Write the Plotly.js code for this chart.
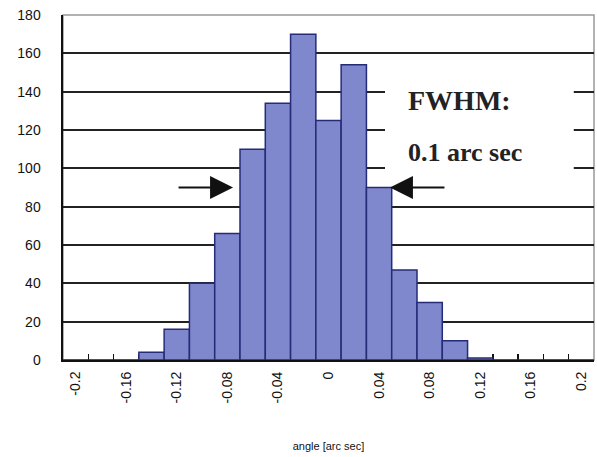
<!DOCTYPE html>
<html>
<head>
<meta charset="utf-8">
<script src="https://cdn.plot.ly/plotly-3.0.1.min.js"></script>
<style>html,body{margin:0;padding:0;background:#fff;}#chart{width:597px;height:457px;}</style>
</head>
<body>
<div id="chart"></div>
<script>
// Bin centres (arc sec) and counts
const angles = [-0.2,-0.18,-0.16,-0.14,-0.12,-0.1,-0.08,-0.06,-0.04,-0.02,0,0.02,0.04,0.06,0.08,0.1,0.12,0.14,0.16,0.18,0.2];
const counts = [0,0,0,4,16,40,66,110,134,170,125,154,90,47,30,10,1,0,0,0,0];
const tickValues = [-0.2,-0.16,-0.12,-0.08,-0.04,0,0.04,0.08,0.12,0.16,0.2];
const tickLabels = ["-0.2","-0.16","-0.12","-0.08","-0.04","0","0.04","0.08","0.12","0.16","0.2"];
const yTicks = [0,20,40,60,80,100,120,140,160,180];
const binWidth = 0.02;

const boundaries = angles.slice(0,-1).map(a => +(a + binWidth/2).toFixed(3));

const trace = {
  type: 'bar',
  x: angles,
  y: counts,
  width: binWidth,
  marker: {color: '#7f88cc', line: {color: '#262b78', width: 1.5}},
  hoverinfo: 'x+y'
};

const layout = {
  width: 597, height: 457,
  margin: {l: 63, r: 3, t: 15, b: 97},
  paper_bgcolor: '#ffffff', plot_bgcolor: '#ffffff',
  showlegend: false,
  font: {family: 'Liberation Sans, Arial, sans-serif', color: '#111'},
  xaxis: {
    type: 'linear', range: [-0.21, 0.21],
    tickmode: 'array', tickvals: tickValues, ticktext: tickLabels,
    tickangle: -90, ticks: '', showgrid: false, zeroline: false,
    showline: true, linecolor: '#111', linewidth: 2,
    tickfont: {size: 14, color: '#111'}, ticklabelstandoff: 4,
    minor: {tickmode: 'array', tickvals: boundaries, ticks: 'inside', ticklen: 6, tickwidth: 1.5, tickcolor: '#111', showgrid: false},
    title: {text: 'angle [arc sec]', font: {size: 11, color: '#111'}, standoff: 40},
    layer: 'below traces'
  },
  yaxis: {
    range: [0, 180], tickmode: 'array', tickvals: yTicks,
    ticks: '', showgrid: true, gridcolor: '#222', gridwidth: 2,
    zeroline: false, showline: true, linecolor: '#111', linewidth: 2.5,
    tickfont: {size: 14, color: '#111'}, ticklabelstandoff: 17
  },
  shapes: [
    {type: 'rect', xref: 'paper', yref: 'paper', x0: 0, x1: 1, y0: 0, y1: 1,
     line: {color: '#999', width: 1.5}, fillcolor: 'rgba(0,0,0,0)', layer: 'below'},
    {type: 'rect', xref: 'x', yref: 'y', x0: 0.0447, x1: 0.194, y0: 93, y1: 152,
     line: {width: 0}, fillcolor: '#ffffff', layer: 'above'}
  ],
  annotations: [
    {xref: 'x', yref: 'y', x: 0.0612, y: 135.3, xanchor: 'left', yanchor: 'middle',
     text: '<b>FWHM:</b>', showarrow: false,
     font: {family: 'Liberation Serif, Times New Roman, serif', size: 28, color: '#222'}},
    {xref: 'x', yref: 'y', x: 0.0612, y: 108.5, xanchor: 'left', yanchor: 'middle',
     text: '<b>0.1 arc sec</b>', showarrow: false,
     font: {family: 'Liberation Serif, Times New Roman, serif', size: 26, color: '#222'}},
    {xref: 'x', yref: 'y', x: -0.0755, y: 90, ax: -56, ay: 0, text: '',
     showarrow: true, arrowhead: 2, arrowsize: 2.3, arrowwidth: 2, arrowcolor: '#111'},
    {xref: 'x', yref: 'y', x: 0.0486, y: 90, ax: 56, ay: 0, text: '',
     showarrow: true, arrowhead: 2, arrowsize: 2.3, arrowwidth: 2, arrowcolor: '#111'}
  ]
};

Plotly.newPlot('chart', [trace], layout, {displayModeBar: false, staticPlot: true});
</script>
</body>
</html>
